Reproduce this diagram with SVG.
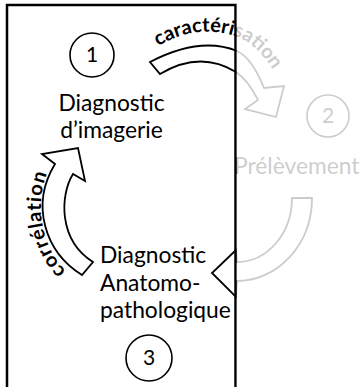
<svg xmlns="http://www.w3.org/2000/svg" width="360" height="387" viewBox="0 0 360 387">
<style>
.lbl{font-family:Lato,'Open Sans',sans-serif;font-size:22.8px;fill:#000}
.mid{text-anchor:middle}
.num{font-family:Lato,'Open Sans',sans-serif;font-size:21px;fill:#000;text-anchor:middle}
.arc{font-family:Lato,'Open Sans',sans-serif;font-size:20px;font-weight:bold;fill:#000}
.ring{fill:none;stroke:#000;stroke-width:1.6}
.arrow{fill:#fff;stroke:#000;stroke-width:1.8;stroke-linejoin:miter}
</style>
<defs>
<path id="tp1" d="M158,46 Q200,22 240,38 Q264,49 284,90"/>
<path id="tp3" d="M66,271 C44,250 30,205 52,162"/>
</defs>
<rect width="360" height="387" fill="#fff"/>
<g id="connectors">
<path id="arrow-caracterisation" class="arrow" d="M150,62 Q200,36 237,51 Q252,58 264,88 L284,86 L276,117 L245,109 L258,100 Q248,80 236,72 Q200,50 160,74 Z"/>
<path id="arrow-prelevement" class="arrow" d="M312,198 A75,83 0 0 1 237,281 L236,297 L212,273 L236,250 L237,262 A55,64 0 0 0 292,198 Z"/>
<path id="arrow-correlation" class="arrow" d="M82,275 C45,252 30,205 55,164 L42,154 L78,148 L85,181 L73,174 C60,195 58,240 93,262 Z"/>
<text class="arc"><textPath href="#tp1">caractérisation</textPath></text>
<text class="arc" letter-spacing="0.8"><textPath href="#tp3">corrélation</textPath></text>
</g>
<g id="node1">
<circle class="ring" cx="92" cy="55" r="22"/>
<text class="num" x="92" y="62">1</text>
<text class="lbl mid" x="111.5" y="111">Diagnostic</text>
<text class="lbl mid" x="111.5" y="138">d’imagerie</text>
</g>
<g id="node2">
<circle class="ring" cx="328" cy="116" r="21"/>
<text class="num" x="328" y="123">2</text>
<text class="lbl" x="234" y="174">Prélèvement</text>
</g>
<g id="node3">
<text class="lbl" x="100" y="263">Diagnostic</text>
<text class="lbl" x="100" y="291">Anatomo-</text>
<text class="lbl" x="100" y="318">pathologique</text>
<circle class="ring" cx="149" cy="358" r="23"/>
<text class="num" x="149" y="365">3</text>
</g>
<rect id="frame" x="7" y="5" width="228.5" height="400" fill="none" stroke="#000" stroke-width="2.5"/>
<rect id="fade" x="236.8" y="0" width="124" height="387" fill="#fff" fill-opacity="0.8"/>
</svg>
